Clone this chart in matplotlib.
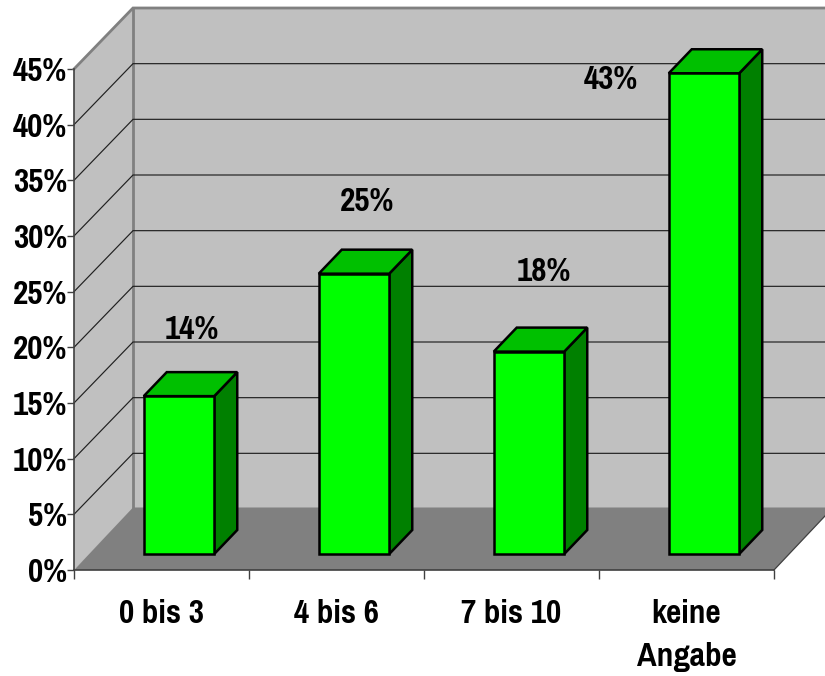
import matplotlib
matplotlib.use("Agg")
import matplotlib.pyplot as plt
from matplotlib.patches import Polygon

plt.rcParams['font.family'] = ['Pragati Narrow', 'Archivo Narrow', 'Liberation Sans', 'DejaVu Sans']

categories = ["0 bis 3", "4 bis 6", "7 bis 10", "keine\nAngabe"]
values = [14, 25, 18, 43]
value_labels = ["14%", "25%", "18%", "43%"]
y_ticks = [0, 5, 10, 15, 20, 25, 30, 35, 40, 45]

W, H = 825, 676
FRONT_L, FRONT_R, FRONT_B, FRONT_T = 74, 774, 570, 69
FONT_SIZE = 26

fig = plt.figure(figsize=(W / 100, H / 100), dpi=100, facecolor="white")
ax = fig.add_axes([FRONT_L / W, 1 - FRONT_B / H,
                   (FRONT_R - FRONT_L) / W, (FRONT_B - FRONT_T) / H])
ax.set_xlim(0, len(categories))
ax.set_ylim(0, y_ticks[-1])
ax.patch.set_visible(False)

# Screen pixels expressed in data units, used for the oblique depth offsets
px_x = len(categories) / (FRONT_R - FRONT_L)
px_y = y_ticks[-1] / (FRONT_B - FRONT_T)
DEPTH_X, DEPTH_Y = 59 * px_x, 61 * px_y
FLOOR_DEPTH_Y = 62.5 * px_y
BAR_W = 70.5 * px_x
BAR_DX, BAR_DY = 23 * px_x, 24 * px_y
BAR_SHIFT_X, BAR_SHIFT_Y = 17.5 * px_x, 18 * px_y
BAR_FOOT = 2 * px_y
WALL_GRAY, FLOOR_GRAY = "#C0C0C0", "#808080"
FAR_R = len(categories) + DEPTH_X


def poly(points, **kw):
    ax.add_patch(Polygon(points, closed=True, clip_on=False, **kw))


top = y_ticks[-1]
# Side wall, back wall and floor of the box
poly([(0, 0), (DEPTH_X, DEPTH_Y), (DEPTH_X, top + DEPTH_Y), (0, top)],
     facecolor=WALL_GRAY, edgecolor="none", zorder=1)
poly([(DEPTH_X, DEPTH_Y), (FAR_R, DEPTH_Y), (FAR_R, top + DEPTH_Y), (DEPTH_X, top + DEPTH_Y)],
     facecolor=WALL_GRAY, edgecolor="none", zorder=1)

# Gridlines run across the back wall and fold down the side wall
for t in y_ticks[1:-1]:
    ax.plot([0, DEPTH_X, FAR_R], [t, t + DEPTH_Y, t + DEPTH_Y], color="#202020",
            lw=0.85, clip_on=False, zorder=1.5, solid_joinstyle="miter")

poly([(0, 0), (DEPTH_X, FLOOR_DEPTH_Y), (FAR_R, FLOOR_DEPTH_Y), (len(categories), 0)],
     facecolor=FLOOR_GRAY, edgecolor="none", zorder=1.6)

# Gray frame of the wall
ax.plot([0, DEPTH_X, FAR_R], [top, top + DEPTH_Y, top + DEPTH_Y], color=FLOOR_GRAY,
        lw=2.0, clip_on=False, zorder=1.7, solid_joinstyle="miter")
ax.plot([DEPTH_X, DEPTH_X], [DEPTH_Y, top + DEPTH_Y], color=FLOOR_GRAY,
        lw=2.0, clip_on=False, zorder=1.4)
ax.plot([len(categories), FAR_R], [0, FLOOR_DEPTH_Y], color="#404040", lw=0.9,
        clip_on=False, zorder=1.7)

# Bars: a flat front face plus parallelogram top and side faces
centers = [i + 0.5 + BAR_SHIFT_X for i in range(len(categories))]
for c, v in zip(centers, values):
    l, r = c - BAR_W / 2, c + BAR_W / 2
    b, t = BAR_SHIFT_Y - BAR_FOOT, v + BAR_SHIFT_Y
    poly([(r, b), (r + BAR_DX, b + BAR_DY), (r + BAR_DX, t + BAR_DY), (r, t)],
         facecolor="#008000", edgecolor="black", lw=1.8, zorder=3, joinstyle="miter")
    poly([(l, t), (l + BAR_DX, t + BAR_DY), (r + BAR_DX, t + BAR_DY), (r, t)],
         facecolor="#00C000", edgecolor="black", lw=1.8, zorder=3, joinstyle="miter")
ax.bar(centers, [v + BAR_FOOT for v in values], width=BAR_W,
       bottom=BAR_SHIFT_Y - BAR_FOOT, color="#00FF00", edgecolor="black", linewidth=1.8,
       zorder=4, clip_on=False)

# Value labels, nudged away from their bars
label_offsets = [(13, 66.5), (13.5, 72), (14.5, 79.5), (-93.5, -6.5)]
for c, v, text, (dx, dy) in zip(centers, values, value_labels, label_offsets):
    ax.text(c + dx * px_x, v + BAR_SHIFT_Y + dy * px_y, text, ha="center", va="center",
            fontsize=FONT_SIZE, fontweight="bold", color="black", zorder=5)

# Axes
for side in ("top", "right"):
    ax.spines[side].set_visible(False)
for side in ("left", "bottom"):
    ax.spines[side].set_color("#404040")
    ax.spines[side].set_linewidth(1.2)
    ax.spines[side].set_zorder(2)

ax.set_yticks(y_ticks)
ax.set_yticklabels([f"{t}%" for t in y_ticks], fontsize=FONT_SIZE, fontweight="bold")
ax.tick_params(axis="y", length=5, width=1.0, color="#404040", pad=-0.2)
ax.set_xticks(range(len(categories) + 1))
ax.set_xticklabels([])
ax.tick_params(axis="x", which="major", length=6.5, width=1.0, color="#404040")
ax.set_xticks([i + 0.5 for i in range(len(categories))], minor=True)
ax.set_xticklabels(categories, minor=True, fontsize=FONT_SIZE, fontweight="bold",
                   linespacing=1.55)
ax.tick_params(axis="x", which="minor", length=0, pad=21)

fig.savefig("out.png", dpi=100)
